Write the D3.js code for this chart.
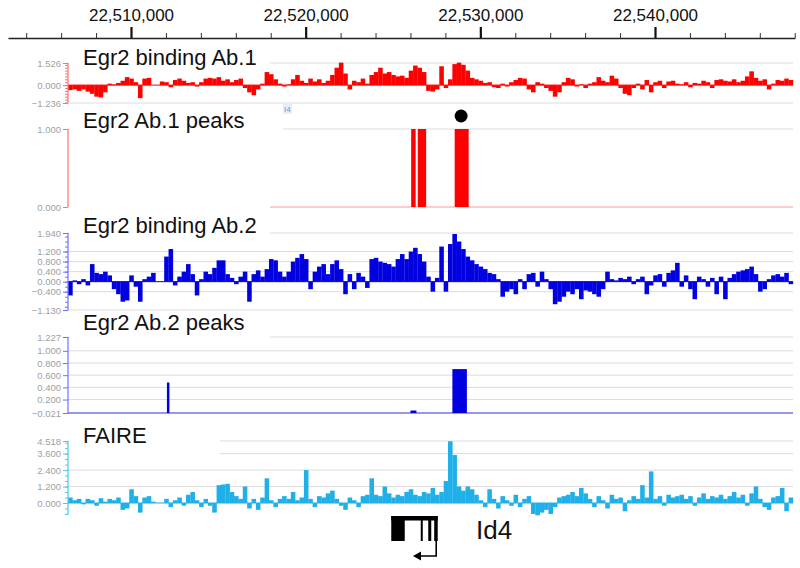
<!DOCTYPE html>
<html><head><meta charset="utf-8">
<script src="https://cdn.jsdelivr.net/npm/d3@7"></script>
<style>body{margin:0;background:#fff}svg{display:block;font-family:"Liberation Sans",Arial,sans-serif}</style>
</head><body>
<svg id="c" width="800" height="568"></svg>
<script>
// ---- data ----
const binStart = 22506400, binSize = 250;
const majorTicks = [22510000, 22520000, 22530000, 22540000];
const ab1Values = [-0.35,-0.3,-0.4,-0.3,-0.45,-0.6,-0.8,-0.85,-0.5,0.1,
 0.05,0.15,0.3,0.55,0.45,0.2,-0.9,0.45,0.5,0,
 0,0.25,0.2,-0.15,0.35,0.45,0.3,0.15,0.2,-0.1,
 0.2,0.45,0.5,0.45,0.55,0.3,0.4,0.2,0.35,0.45,
 -0.2,-0.5,-0.7,-0.3,0.1,0.9,0.75,0.4,0.1,-0.1,
 0.05,0.4,0.7,0.3,0.15,0.45,0.25,0.4,0.15,0.3,
 0.7,1.2,1.55,0.8,-0.3,0.3,0.2,0.45,0.1,0.7,
 0.9,1.2,0.8,0.9,0.7,0.6,0.65,0.5,1.0,1.35,
 1.2,0.9,-0.4,-0.45,-0.3,1.3,-0.2,0.4,1.45,1.55,
 1.4,1.0,0.5,0.4,0.3,0.15,0.2,-0.15,-0.2,0.1,
 -0.1,0.2,0.35,0.5,0.45,-0.3,-0.5,0.2,0.1,-0.2,
 -0.4,-0.8,-0.5,0.2,0.5,0.4,-0.1,0.05,-0.2,0.1,
 0.2,0.55,0.3,0.2,0.65,0.45,-0.2,-0.6,-0.7,-0.2,
 0.1,-0.3,0.35,-0.5,0.2,0.3,-0.2,0.25,0.3,0.1,
 0.05,0.2,-0.15,0.15,0.1,0.3,0.2,-0.2,0.35,0.4,
 0.3,0.25,0.4,0.2,0.3,0.6,0.95,0.5,0.3,0.4,
 -0.3,0.1,0.35,0.3,0.45,0.35];
const ab2Values = [-0.55,0.05,-0.1,0.1,-0.15,0.7,0.35,0.3,0.4,0.25,
 -0.3,-0.5,-0.8,-0.75,0.25,-0.2,-0.8,0.1,0.2,0.35,
 0,0,1.0,1.3,-0.15,0.2,0.4,0.7,0.3,-0.55,
 0.1,0.4,0.3,0.55,0.85,0.85,0.3,0.15,-0.1,0.2,
 0.4,-0.8,0.3,0.45,0.2,0.5,0.9,0.85,0.4,0.2,
 0.4,0.8,0.95,1.1,0.9,-0.3,0.4,0.6,0.7,0.3,
 0.7,0.85,0.5,-0.5,0.3,-0.3,0.35,0.2,-0.25,0.9,
 0.95,0.8,0.75,0.7,0.6,0.9,1.1,0.9,1.2,1.35,
 1.1,0.8,0.2,-0.4,0.15,1.4,-0.4,1.5,1.9,1.6,
 1.3,1.0,0.85,0.7,0.6,0.5,0.35,0.3,0.1,-0.6,
 -0.4,-0.3,-0.5,0.1,-0.3,0.3,0.35,-0.2,0.4,0.1,
 -0.3,-0.9,-0.8,-0.6,-0.4,-0.5,-0.3,-0.7,-0.35,-0.4,
 -0.5,-0.6,-0.3,0.4,0.1,0.05,0.15,0.1,0.2,-0.1,
 0.1,0.2,-0.5,-0.15,0.25,0.3,-0.2,0.35,0.45,0.75,
 -0.2,0.25,-0.3,-0.7,0.2,0.1,-0.2,0.15,-0.5,0.2,
 -0.7,0.15,0.3,0.4,0.45,0.5,0.6,0.3,-0.4,-0.3,
 0.1,0.25,0.3,0.2,0.35,-0.1];
const faireValues = [0.4,0.2,0.3,-0.1,0.3,0.2,-0.2,0.35,0.1,0.3,
 0.2,0.4,-0.5,-0.4,1.0,0.5,-0.7,0.4,0.5,0.1,
 0,0,0.3,-0.3,0.2,0.4,-0.2,0.6,0.8,0.2,
 -0.3,0.3,-0.2,-0.7,1.3,1.35,1.4,0.8,0.5,0.3,
 1.2,-0.4,0.3,-0.5,0.4,1.8,0.2,-0.3,0.3,0.5,
 0.3,0.8,0.2,0.4,2.4,0.3,-0.3,0.5,0.4,0.7,
 0.9,0.3,-0.2,-0.5,0.4,0.2,-0.3,0.5,0.6,1.8,
 0.6,0.5,1.2,0.7,0.4,0.6,0.5,0.8,1.0,0.6,
 0.5,0.8,0.7,1.1,0.6,0.8,1.6,4.5,3.5,1.2,
 0.9,1.2,1.0,0.6,0.2,-0.3,1.0,0.3,-0.4,0.5,
 0.2,-0.2,0.6,-0.3,0.3,0.5,-0.8,-0.9,-0.7,-0.5,
 -0.8,-0.3,0.4,0.5,0.6,0.8,0.5,1.1,0.7,0.3,
 -0.3,0.5,0.2,-0.4,0.6,0.3,0.4,-0.6,0.2,0.5,
 0.3,1.3,0.4,2.3,0.3,0.5,-0.2,0.6,0.4,0.5,
 0.6,0.3,0.5,-0.2,0.4,0.7,0.3,0.5,0.4,0.6,
 0.3,0.5,0.8,0.4,0.6,-0.2,0.7,1.2,0.3,-0.3,
 -0.5,0.4,0.5,1.1,-0.6,0.4];
// peaks: [start, end, value]
const ab1Peaks = [[22526040,22526297,1.0],[22526417,22526897,1.0],[22528531,22529331,1.0]];
const ab2Peaks = [[22512057,22512200,0.48],[22526000,22526343,0.02],[22528400,22529230,0.7]];
const peakDot = [22528900];
const geneName = "Id4";

// ---- scales ----
const svg = d3.select("#c");
const x = d3.scaleLinear().domain([22510000, 22540000]).range([131, 655]);
const xAxisScale = x.copy().domain([x.invert(8), x.invert(795)]).range([8, 795]);
const X0 = 68, X1 = 793;

// top axis
const minorTicks = d3.range(22504000, 22548001, 2000).filter(d => !majorTicks.includes(d) && x(d) > 8 && x(d) < 795);
const gTop = svg.append("g").attr("transform", "translate(0,38)");
gTop.call(d3.axisTop(xAxisScale).tickValues(minorTicks).tickSize(5).tickSizeOuter(0).tickFormat(""))
  .call(g => g.selectAll("line").attr("stroke", "#333"))
  .call(g => g.select(".domain").attr("stroke", "#222").attr("stroke-width", 1.3));
gTop.append("g").call(d3.axisTop(xAxisScale).tickValues(majorTicks).tickSize(11).tickSizeOuter(0).tickFormat(d3.format(",")))
  .call(g => g.select(".domain").remove())
  .call(g => g.selectAll("line").attr("stroke", "#111").attr("stroke-width", 2.2))
  .call(g => g.selectAll("text").attr("font-size", 17).attr("fill", "#111").attr("dy", "-0.2em")
    .attr("font-family", '"Liberation Sans",Arial,sans-serif'));

function track(cfg) {
  const y = d3.scaleLinear().domain(cfg.domain).range(cfg.range);
  const g = svg.append("g");
  // gridlines
  g.selectAll(".grid").data(cfg.grid).join("line")
    .attr("x1", X0).attr("x2", X1).attr("y1", d => y(d)).attr("y2", d => y(d))
    .attr("stroke", "#dcdcdc").attr("stroke-width", 1);
  // data (bar graph, one bar per bin)
  if (cfg.values) {
    g.append("g").selectAll("rect").data(cfg.values).join("rect")
      .attr("x", (d, i) => x(binStart + i * binSize))
      .attr("width", (d, i) => x(binStart + (i + 1) * binSize) - x(binStart + i * binSize) + 0.2)
      .attr("y", d => Math.min(y(0), y(d)))
      .attr("height", d => Math.abs(y(d) - y(0)))
      .attr("fill", cfg.color);
    g.append("line").attr("x1", X0).attr("x2", X1).attr("y1", y(0)).attr("y2", y(0))
      .attr("stroke", cfg.color).attr("stroke-width", 1);
  }
  if (cfg.peaks) {
    g.append("line").attr("x1", cfg.baseX || X0).attr("x2", X1).attr("y1", y(cfg.domain[0])).attr("y2", y(cfg.domain[0]))
      .attr("stroke", cfg.baseColor).attr("stroke-width", 1.2);
    g.append("g").selectAll("rect").data(cfg.peaks).join("rect")
      .attr("x", d => x(d[0])).attr("width", d => Math.max(1.8, x(d[1]) - x(d[0])))
      .attr("y", d => y(d[2])).attr("height", d => y(cfg.domain[0]) - y(d[2]))
      .attr("fill", cfg.color);
  }
  // title box
  const b = cfg.box;
  g.append("rect").attr("x", 69).attr("y", b[0]).attr("width", b[1] - 69).attr("height", b[2]).attr("fill", "#fff");
  g.append("text").attr("x", 83).attr("y", cfg.titleY).attr("font-size", 22).attr("fill", "#111").text(cfg.title);
  // y axis
  const ya = g.append("g").attr("transform", `translate(${X0},0)`);
  if (cfg.minor) {
    ya.append("g").call(d3.axisLeft(y).tickValues(cfg.minor).tickSize(3).tickFormat("").tickSizeOuter(0))
      .call(a => a.select(".domain").remove())
      .call(a => a.selectAll("line").attr("stroke", cfg.axisColor));
  }
  ya.append("g").call(d3.axisLeft(y).tickValues(cfg.ticks).tickSize(5).tickSizeOuter(0).tickFormat(d3.format(".3f")))
    .call(a => a.select(".domain").remove())
    .call(a => a.selectAll("line").attr("stroke", cfg.axisColor))
    .call(a => a.selectAll("text").attr("fill", "#a0a0a0").attr("font-size", 9.5).attr("x", -7)
      .attr("font-family", '"Liberation Sans",Arial,sans-serif'));
  ya.append("line").attr("x1", 0).attr("x2", 0).attr("y1", cfg.axisY[0]).attr("y2", cfg.axisY[1])
    .attr("stroke", cfg.axisColor).attr("stroke-width", 1.2);
  return y;
}

function stepTicks(lo, hi, step) {
  const out = [];
  for (let v = Math.ceil(lo / step) * step; v <= hi + 1e-9; v += step) out.push(+v.toFixed(4));
  return out;
}

track({ title: "Egr2 binding Ab.1", titleY: 65, box: [46, 270, 22], domain: [-1.236, 1.526], range: [103, 63],
  grid: [1.526, -1.236], values: ab1Values, color: "#ff0000", axisColor: "#ff7070",
  ticks: [1.526, 0, -1.236], minor: stepTicks(-1.236, 1.526, 0.2), axisY: [63, 103] });

track({ title: "Egr2 Ab.1 peaks", titleY: 128, box: [104, 283, 41], domain: [0, 1], range: [207, 129],
  grid: [1], peaks: ab1Peaks, color: "#ff0000", baseColor: "#ff9a9a", baseX: 270, axisColor: "#ff7070",
  ticks: [1, 0], axisY: [129, 207] });

track({ title: "Egr2 binding Ab.2", titleY: 233, box: [214, 270, 22], domain: [-1.13, 1.94], range: [310, 233],
  grid: [1.94, 1.2, 0.8, 0.4, -0.4, -1.13], values: ab2Values, color: "#0000e0", axisColor: "#7070ff",
  ticks: [1.94, 1.2, 0.8, 0.4, 0, -0.4, -1.13], minor: stepTicks(-1.13, 1.94, 0.2), axisY: [233, 310] });

track({ title: "Egr2 Ab.2 peaks", titleY: 330, box: [311, 270, 29], domain: [-0.021, 1.227], range: [413, 337],
  grid: [1.227, 1, 0.8, 0.6, 0.4, 0.2], peaks: ab2Peaks, color: "#0000e0", baseColor: "#3030d0", axisColor: "#7070ff",
  ticks: [1.227, 1, 0.8, 0.6, 0.4, 0.2, -0.021], axisY: [337, 413] });

track({ title: "FAIRE", titleY: 443, box: [422, 220, 35], domain: [0, 4.518], range: [503, 441],
  grid: [4.518, 3.6, 2.4, 1.2], values: faireValues, color: "#1fb0e8", axisColor: "#50c8f0",
  ticks: [4.518, 3.6, 2.4, 1.2, 0], minor: stepTicks(-0.8, 4.518, 0.4), axisY: [441, 515] });

// peak dot
svg.append("circle").attr("cx", x(peakDot[0])).attr("cy", 116).attr("r", 6.5).attr("fill", "#000");
// tiny cropped label
svg.append("rect").attr("x", 283).attr("y", 104).attr("width", 9).attr("height", 10).attr("fill", "#e4eefa");
svg.append("text").attr("x", 284).attr("y", 112).attr("font-size", 8).attr("fill", "#6a9fd0").text("I4");

// gene model
const gm = svg.append("g").attr("fill", "#000");
const gx0 = x(22524900), gx1 = x(22527560);
gm.append("rect").attr("x", gx0).attr("y", 516).attr("width", 13.5).attr("height", 25);
gm.append("rect").attr("x", gx0).attr("y", 516).attr("width", gx1 - gx0).attr("height", 4.5);
gm.append("rect").attr("x", gx0 + 29.5).attr("y", 516).attr("width", 2).attr("height", 25);
gm.append("rect").attr("x", gx0 + 37).attr("y", 516).attr("width", 3).attr("height", 25);
gm.append("rect").attr("x", gx1 - 3.5).attr("y", 516).attr("width", 3.5).attr("height", 25);
svg.append("path").attr("d", `M${gx1 - 1.5},541 V556 H419`).attr("fill", "none").attr("stroke", "#000").attr("stroke-width", 1.6);
svg.append("path").attr("d", `M413,556 L421,551.5 L421,560.5 Z`).attr("fill", "#000");
svg.append("text").attr("x", 476).attr("y", 539).attr("font-size", 26).attr("fill", "#111").text(geneName);
</script>
</body></html>
